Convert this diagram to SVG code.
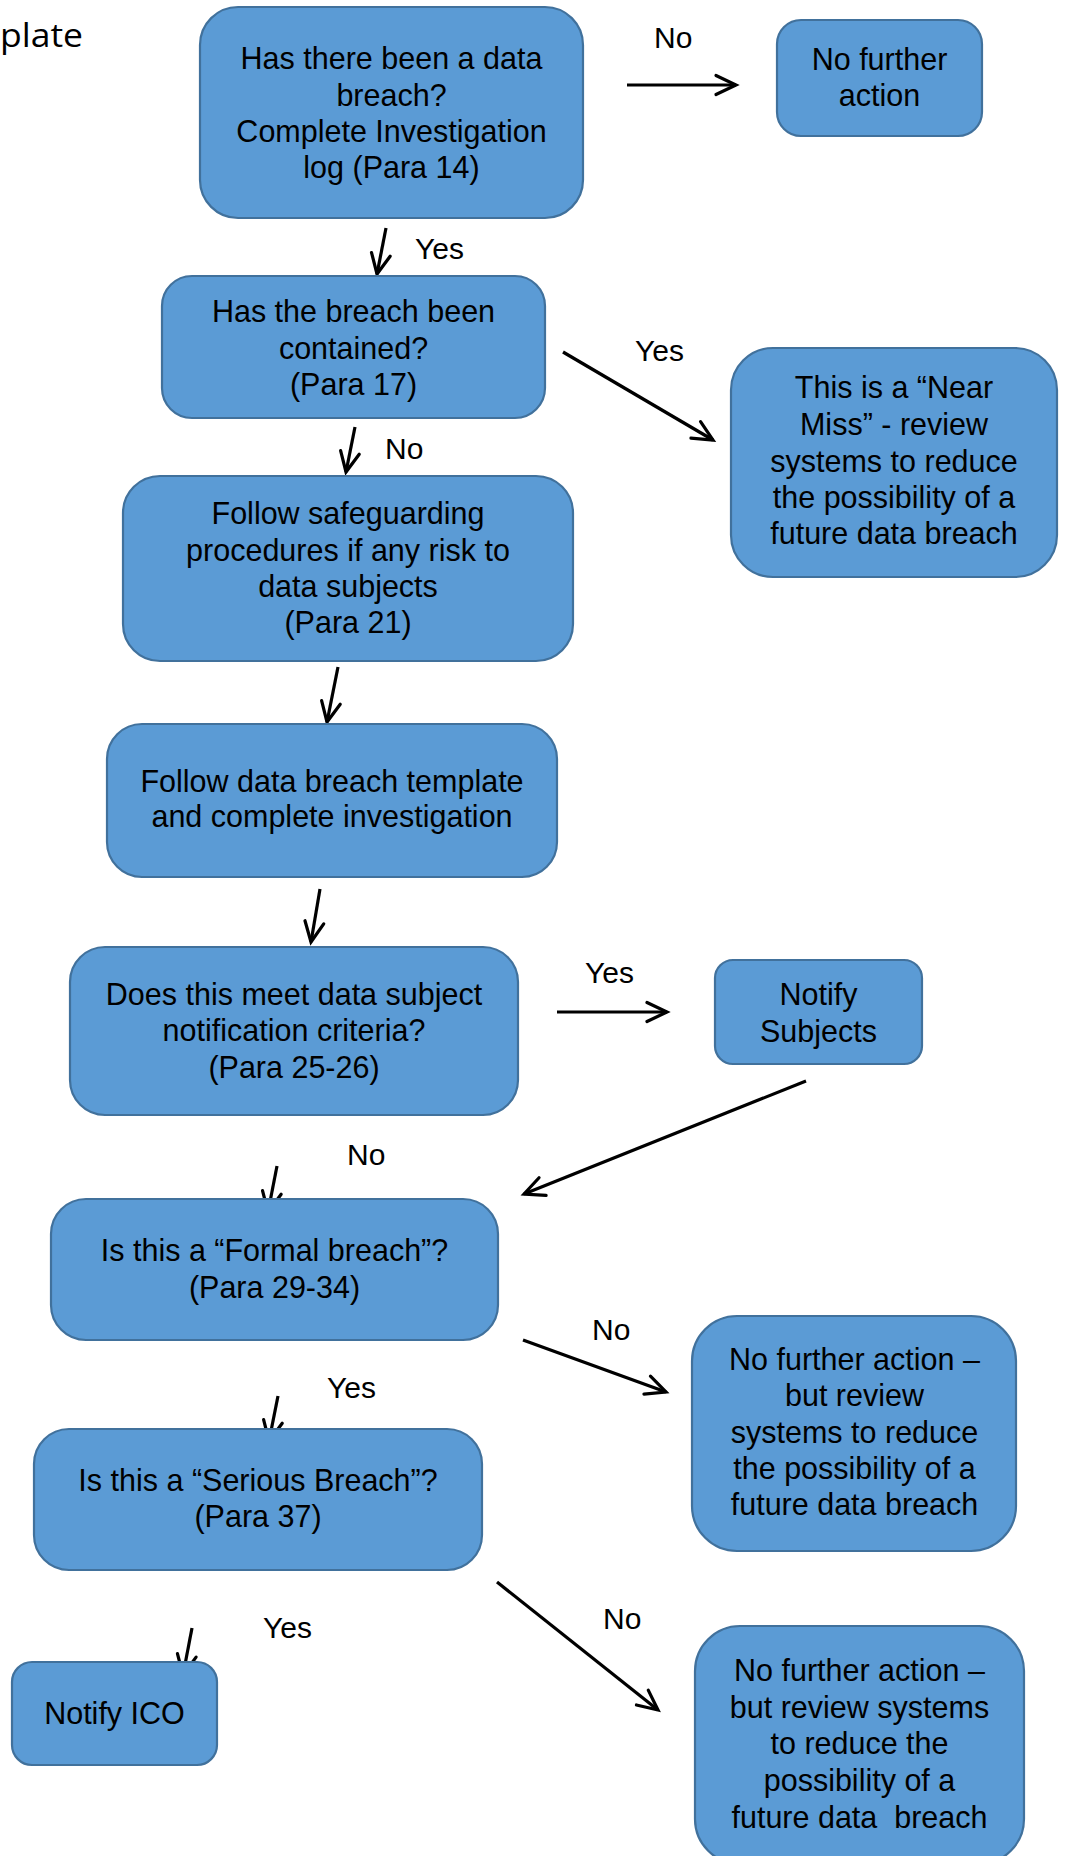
<svg xmlns="http://www.w3.org/2000/svg" width="1065" height="1856" viewBox="0 0 1065 1856">
<style>
.box{fill:#5B9BD5;stroke:#41719C;stroke-width:2.2}
.t{font-family:"Liberation Sans",Arial,sans-serif;font-size:30.5px;fill:#000;text-anchor:middle}
.lbl{font-family:"Liberation Sans",Arial,sans-serif;font-size:30px;fill:#000}
.c{stroke:#000;stroke-width:3.2;fill:none}
</style>
<defs>
<marker id="ah" markerUnits="userSpaceOnUse" viewBox="-24 -13 28 26" markerWidth="28" markerHeight="26" refX="0" refY="0" orient="auto">
<path d="M-20,-9.5 L0,0 L-20,9.5" fill="none" stroke="#000" stroke-width="3.2" stroke-linecap="round" stroke-linejoin="miter"/>
</marker>
</defs>
<rect width="1065" height="1856" fill="#fff"/>
<text x="0" y="47" font-family="'Open Sans',sans-serif" font-size="33" textLength="83" lengthAdjust="spacingAndGlyphs">plate</text>

<g id="connectors">
<line class="c" x1="627" y1="85" x2="736" y2="85" marker-end="url(#ah)"/>
<line class="c" x1="386" y1="228" x2="377" y2="274" marker-end="url(#ah)"/>
<line class="c" x1="563" y1="352" x2="713" y2="440" marker-end="url(#ah)"/>
<line class="c" x1="355" y1="427" x2="346" y2="472" marker-end="url(#ah)"/>
<line class="c" x1="338" y1="667" x2="327" y2="722" marker-end="url(#ah)"/>
<line class="c" x1="320" y1="889" x2="311" y2="942" marker-end="url(#ah)"/>
<line class="c" x1="557" y1="1012" x2="667" y2="1012" marker-end="url(#ah)"/>
<line class="c" x1="806" y1="1081" x2="524" y2="1194" marker-end="url(#ah)"/>
<line class="c" x1="277" y1="1166" x2="268" y2="1212" marker-end="url(#ah)"/>
<line class="c" x1="523" y1="1340" x2="666" y2="1392" marker-end="url(#ah)"/>
<line class="c" x1="278" y1="1396" x2="269" y2="1441" marker-end="url(#ah)"/>
<line class="c" x1="497" y1="1582" x2="658" y2="1710" marker-end="url(#ah)"/>
<line class="c" x1="192" y1="1628" x2="183" y2="1675" marker-end="url(#ah)"/>
<text class="lbl" x="654" y="48">No</text>
<text class="lbl" x="415" y="259">Yes</text>
<text class="lbl" x="635" y="361">Yes</text>
<text class="lbl" x="385" y="459">No</text>
<text class="lbl" x="585" y="983">Yes</text>
<text class="lbl" x="347" y="1165">No</text>
<text class="lbl" x="592" y="1340">No</text>
<text class="lbl" x="327" y="1398">Yes</text>
<text class="lbl" x="263" y="1638">Yes</text>
<text class="lbl" x="603" y="1629">No</text>
</g>

<g id="n-breach">
<rect class="box" x="200" y="7" width="383" height="211" rx="38"/>
<text class="t" x="391.5" y="69">Has there been a data</text>
<text class="t" x="391.5" y="105.5">breach?</text>
<text class="t" x="391.5" y="142">Complete Investigation</text>
<text class="t" x="391.5" y="178">log (Para 14)</text>
</g>
<g id="n-nofurther1">
<rect class="box" x="777" y="20" width="205" height="116" rx="24"/>
<text class="t" x="879.5" y="70">No further</text>
<text class="t" x="879.5" y="106">action</text>
</g>
<g id="n-contained">
<rect class="box" x="162" y="276" width="383" height="142" rx="30"/>
<text class="t" x="353.5" y="322">Has the breach been</text>
<text class="t" x="353.5" y="359">contained?</text>
<text class="t" x="353.5" y="395">(Para 17)</text>
</g>
<g id="n-nearmiss">
<rect class="box" x="731" y="348" width="326" height="229" rx="42"/>
<text class="t" x="894" y="398">This is a “Near</text>
<text class="t" x="894" y="435">Miss” - review</text>
<text class="t" x="894" y="472">systems to reduce</text>
<text class="t" x="894" y="508">the possibility of a</text>
<text class="t" x="894" y="544">future data breach</text>
</g>
<g id="n-safeguarding">
<rect class="box" x="123" y="476" width="450" height="185" rx="37"/>
<text class="t" x="348" y="524">Follow safeguarding</text>
<text class="t" x="348" y="561">procedures if any risk to</text>
<text class="t" x="348" y="597">data subjects</text>
<text class="t" x="348" y="633">(Para 21)</text>
</g>
<g id="n-template">
<rect class="box" x="107" y="724" width="450" height="153" rx="35"/>
<text class="t" x="332" y="792">Follow data breach template</text>
<text class="t" x="332" y="827">and complete investigation</text>
</g>
<g id="n-notification">
<rect class="box" x="70" y="947" width="448" height="168" rx="35"/>
<text class="t" x="294" y="1005">Does this meet data subject</text>
<text class="t" x="294" y="1041">notification criteria?</text>
<text class="t" x="294" y="1078">(Para 25-26)</text>
</g>
<g id="n-notifysubjects">
<rect class="box" x="715" y="960" width="207" height="104" rx="18"/>
<text class="t" x="818.5" y="1005">Notify</text>
<text class="t" x="818.5" y="1042">Subjects</text>
</g>
<g id="n-formal">
<rect class="box" x="51" y="1199" width="447" height="141" rx="35"/>
<text class="t" x="274.5" y="1261">Is this a “Formal breach”?</text>
<text class="t" x="274.5" y="1298">(Para 29-34)</text>
</g>
<g id="n-nofurther2">
<rect class="box" x="692" y="1316" width="324" height="235" rx="45"/>
<text class="t" x="854.5" y="1370">No further action –</text>
<text class="t" x="854.5" y="1406">but review</text>
<text class="t" x="854.5" y="1443">systems to reduce</text>
<text class="t" x="854.5" y="1479">the possibility of a</text>
<text class="t" x="854.5" y="1515">future data breach</text>
</g>
<g id="n-serious">
<rect class="box" x="34" y="1429" width="448" height="141" rx="35"/>
<text class="t" x="258" y="1491">Is this a “Serious Breach”?</text>
<text class="t" x="258" y="1527">(Para 37)</text>
</g>
<g id="n-ico">
<rect class="box" x="12" y="1662" width="205" height="103" rx="20"/>
<text class="t" x="114.5" y="1724">Notify ICO</text>
</g>
<g id="n-nofurther3">
<rect class="box" x="695" y="1626" width="329" height="238" rx="45"/>
<text class="t" x="859.5" y="1681">No further action –</text>
<text class="t" x="859.5" y="1718">but review systems</text>
<text class="t" x="859.5" y="1754">to reduce the</text>
<text class="t" x="859.5" y="1791">possibility of a</text>
<text class="t" x="859.5" y="1828" style="white-space:pre">future data  breach</text>
</g>
</svg>
